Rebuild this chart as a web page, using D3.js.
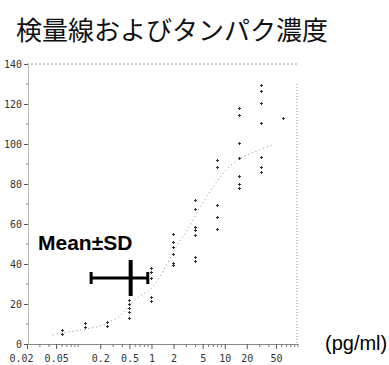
<!DOCTYPE html>
<html>
<head>
<meta charset="utf-8">
<script src="https://cdn.jsdelivr.net/npm/d3@7"></script>
<style>
  html, body { margin: 0; padding: 0; background: #fff; }
  svg { display: block; }
</style>
</head>
<body>
<svg id="chart" width="389" height="365"></svg>
<script>
// Standard dilution series (pg/ml) and replicate readings at each level
const standardConc = [0.061, 0.122, 0.244, 0.488, 0.977, 1.953, 3.906, 7.813, 15.625, 31.25, 62.5];
const replicateValues = [
  [7, 5],
  [10.5, 8.5],
  [11, 9],
  [22, 20, 18, 16, 13],
  [38, 36, 33, 23.5, 21.5],
  [55, 51, 48.5, 45, 40.5, 39.5],
  [72, 67.5, 58.5, 57, 54.5, 43.5, 41.5],
  [92, 88.5, 69.5, 63.5, 57.5],
  [118, 114.5, 100.5, 93, 84, 80, 78],
  [129.5, 126.5, 120.5, 110.5, 93.5, 88.5, 86],
  [113]
];

// Fitted calibration curve, sampled along the concentration range
const curveConc  = [0.045, 0.061, 0.105, 0.197, 0.3, 0.37, 0.47, 0.69, 0.94, 1.17, 1.42, 1.66, 2.34, 3.1, 4.52, 6.8, 9.9, 14.9, 25.3, 44.5];
const curveValue = [4.5, 5.5, 7, 9, 12, 14, 18, 24, 27, 31, 36, 40.5, 50.5, 57, 68, 78, 86, 92, 96, 99.5];

// Sample summary: mean ± SD in concentration and signal
const sampleMeanConc = 0.52, sampleSdConc = 0.37;
const sampleMeanLevel = 33, sampleSdLevel = 9;

// Axis ticks
const xTickLabels = [0.02, 0.05, 0.2, 0.5, 1, 2, 5, 10, 20, 50];
const yTickLabels = [0, 20, 40, 60, 80, 100, 120, 140];

const titleText = "検量線およびタンパク濃度";
const legendText = "Mean±SD";
const unitText = "(pg/ml)";

const svg = d3.select("#chart");

const x = d3.scaleLog().domain([0.02, 100]).range([27, 298]);
const y = d3.scaleLinear().domain([0, 140]).range([344, 64]);

// Title
svg.append("text")
  .attr("x", 16).attr("y", 40)
  .attr("font-family", "'Noto Sans CJK JP', 'Noto Sans', sans-serif")
  .attr("font-size", 26)
  .attr("fill", "#111")
  .text(titleText);

// Frame: top and right edges are faint dotted lines
svg.append("line")
  .attr("x1", x(0.02)).attr("x2", x(100))
  .attr("y1", y(140)).attr("y2", y(140))
  .attr("stroke", "#9a9a9a").attr("stroke-dasharray", "2 2");
svg.append("line")
  .attr("x1", x(100) - 1).attr("x2", x(100) - 1)
  .attr("y1", y(130)).attr("y2", y(0))
  .attr("stroke", "#9a9a9a").attr("stroke-dasharray", "1 2");

const tickFont = "'DejaVu Sans Mono', monospace";

// Y axis
const yAxis = svg.append("g")
  .attr("transform", `translate(${x(0.02) + 1},0)`)
  .call(d3.axisLeft(y).tickValues(yTickLabels).tickSize(4).tickPadding(2).tickSizeOuter(0));
yAxis.select(".domain").attr("stroke", "#777").attr("stroke-dasharray", "1 1");
yAxis.selectAll(".tick line").attr("stroke", "#555");
yAxis.selectAll(".tick text")
  .attr("font-family", tickFont).attr("font-size", 10).attr("fill", "#333");

// Minor y ticks
svg.append("g").selectAll("line")
  .data(d3.range(10, 140, 20))
  .join("line")
  .attr("x1", x(0.02) - 1).attr("x2", x(0.02) + 1)
  .attr("y1", d => y(d)).attr("y2", d => y(d))
  .attr("stroke", "#888");

// X axis
const xAxis = svg.append("g")
  .attr("transform", `translate(0,${y(0)})`)
  .call(d3.axisBottom(x).tickValues(xTickLabels).tickSize(5).tickPadding(6)
    .tickFormat(d3.format("~g")).tickSizeOuter(0));
xAxis.select(".domain").attr("stroke", "#888");
xAxis.selectAll(".tick line").attr("stroke", "#555");
xAxis.selectAll(".tick text")
  .attr("font-family", tickFont).attr("font-size", 10).attr("fill", "#333")
  .attr("dx", (d, i) => i === 0 ? -6 : 0);

// Minor x ticks on the log scale
svg.append("g").selectAll("line")
  .data(x.ticks().filter(t => !xTickLabels.includes(+t.toPrecision(3))))
  .join("line")
  .attr("x1", d => x(d)).attr("x2", d => x(d))
  .attr("y1", y(0)).attr("y2", y(0) + 3)
  .attr("stroke", "#777");

// Calibration curve
const curvePts = curveConc.map((c, i) => [x(c), y(curveValue[i])]);
svg.append("path")
  .attr("d", d3.line().curve(d3.curveCatmullRom)(curvePts))
  .attr("fill", "none")
  .attr("stroke", "#8a8a8a")
  .attr("stroke-width", 1)
  .attr("stroke-dasharray", "1 3");

// Replicate points
const points = standardConc.flatMap((c, i) => replicateValues[i].map(v => ({ c, v })));
const marks = svg.append("g").attr("stroke", "#333").attr("stroke-width", 1);
marks.selectAll("path")
  .data(points)
  .join("path")
  .attr("d", d => {
    const px = Math.round(x(d.c)) + 0.5, py = Math.round(y(d.v)) + 0.5;
    return `M${px - 1.5},${py}H${px + 1.5}M${px},${py - 1.5}V${py + 1.5}`;
  });

// Mean ± SD cross
const barColor = "#000";
const xLo = x(sampleMeanConc - sampleSdConc), xHi = x(sampleMeanConc + sampleSdConc);
const yMean = y(sampleMeanLevel);
svg.append("line")
  .attr("x1", xLo).attr("x2", xHi).attr("y1", yMean).attr("y2", yMean)
  .attr("stroke", barColor).attr("stroke-width", 3);
[xLo, xHi].forEach(xc => {
  svg.append("line")
    .attr("x1", xc).attr("x2", xc).attr("y1", yMean - 6).attr("y2", yMean + 6)
    .attr("stroke", barColor).attr("stroke-width", 3);
});
svg.append("line")
  .attr("x1", x(sampleMeanConc)).attr("x2", x(sampleMeanConc))
  .attr("y1", y(sampleMeanLevel + sampleSdLevel)).attr("y2", y(sampleMeanLevel - sampleSdLevel))
  .attr("stroke", barColor).attr("stroke-width", 4);

// Labels
svg.append("text")
  .attr("x", 38).attr("y", 250)
  .attr("font-family", "'Liberation Sans', Arial, sans-serif")
  .attr("font-weight", "bold")
  .attr("font-size", 21)
  .attr("fill", "#000")
  .text(legendText);

svg.append("text")
  .attr("x", 325).attr("y", 350)
  .attr("font-family", "'Liberation Sans', Arial, sans-serif")
  .attr("font-size", 20)
  .attr("fill", "#000")
  .text(unitText);
</script>
</body>
</html>
